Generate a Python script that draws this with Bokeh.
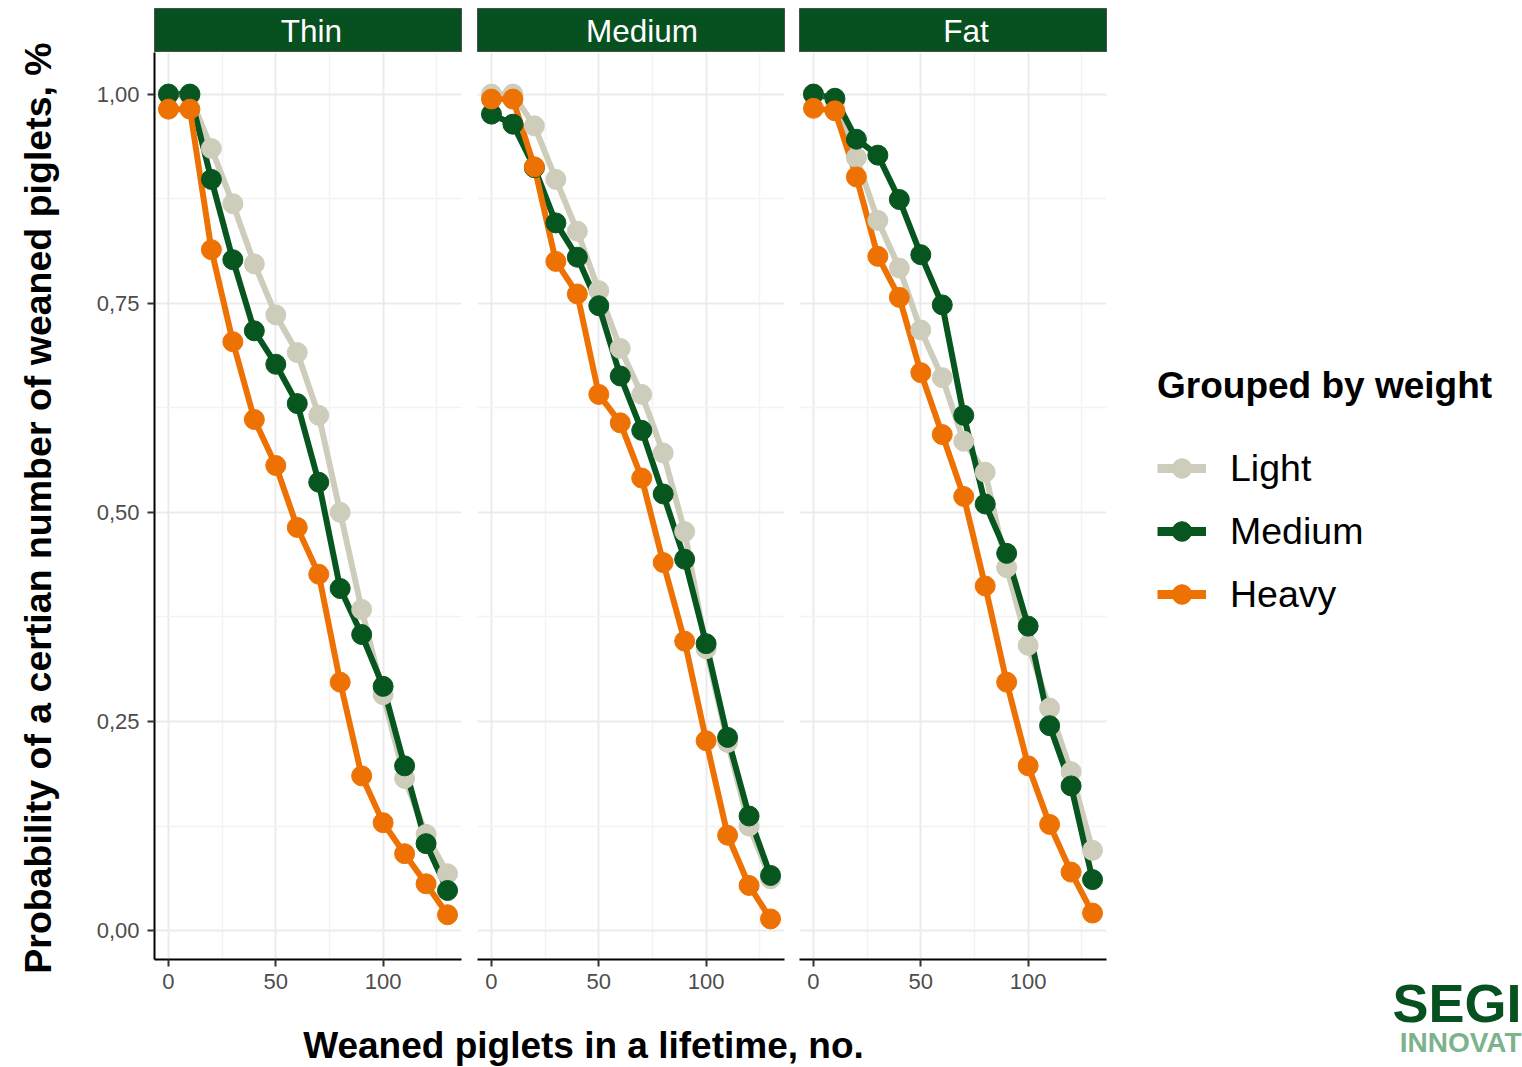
import math
from bokeh.plotting import figure
from bokeh.layouts import row, column
from bokeh.models import Range1d, FixedTicker, Label, Legend, LegendItem
from bokeh.embed import file_html
from bokeh.resources import INLINE

# ---------------- data ----------------
weaned = [0, 10, 20, 30, 40, 50, 60, 70, 80, 90, 100, 110, 120, 130]
panels = ["Thin", "Medium", "Fat"]
groups = ["Light", "Medium", "Heavy"]

thin_light = [1.000, 0.998, 0.935, 0.869, 0.797, 0.736, 0.691, 0.616, 0.500, 0.384, 0.282, 0.182, 0.115, 0.068]
thin_medium = [1.000, 1.000, 0.898, 0.802, 0.717, 0.677, 0.630, 0.536, 0.409, 0.354, 0.292, 0.197, 0.104, 0.048]
thin_heavy = [0.982, 0.982, 0.814, 0.704, 0.611, 0.556, 0.482, 0.426, 0.297, 0.185, 0.129, 0.092, 0.056, 0.019]

medium_light = [1.000, 1.000, 0.962, 0.898, 0.836, 0.765, 0.696, 0.641, 0.571, 0.477, 0.337, 0.225, 0.125, 0.062]
medium_medium = [0.976, 0.964, 0.912, 0.846, 0.805, 0.747, 0.663, 0.598, 0.522, 0.444, 0.343, 0.231, 0.137, 0.066]
medium_heavy = [0.994, 0.994, 0.913, 0.800, 0.761, 0.641, 0.607, 0.541, 0.440, 0.346, 0.227, 0.114, 0.054, 0.014]

fat_light = [1.000, 0.992, 0.924, 0.849, 0.792, 0.718, 0.661, 0.585, 0.548, 0.434, 0.341, 0.266, 0.190, 0.096]
fat_medium = [1.000, 0.995, 0.946, 0.927, 0.874, 0.808, 0.748, 0.616, 0.510, 0.451, 0.364, 0.245, 0.173, 0.061]
fat_heavy = [0.983, 0.980, 0.901, 0.806, 0.757, 0.667, 0.593, 0.519, 0.412, 0.297, 0.197, 0.127, 0.070, 0.021]

y_tick_values = [0.0, 0.25, 0.5, 0.75, 1.0]
y_tick_labels = ["0,00", "0,25", "0,50", "0,75", "1,00"]
y_minor_values = [0.125, 0.375, 0.625, 0.875]
x_tick_values = [0, 50, 100]
x_tick_labels = ["0", "50", "100"]
x_minor_values = [25, 75, 125]

y_title = "Probability of a certian number of weaned piglets, %"
x_title = "Weaned piglets in a lifetime, no."
legend_title = "Grouped by weight"
logo_top = "SEGI"
logo_bottom = "INNOVAT"

series = {
    "Thin": [thin_light, thin_medium, thin_heavy],
    "Medium": [medium_light, medium_medium, medium_heavy],
    "Fat": [fat_light, fat_medium, fat_heavy],
}

# ---------------- style ----------------
FONT = "Liberation Sans"
COLORS = ["#CECDBC", "#07551F", "#EE7203"]
STRIP = "#07501F"
GRID_MAJOR = "#EBEBEB"
GRID_MINOR = "#F3F3F3"

YT_W = 70  # left column holding the y title
# per-panel geometry: (fig width, border left, border right)
geom = {"Thin": (399, 84, 8), "Medium": (323, 8, 8), "Fat": (338, 7, 24)}
strip_text_shift = {"Thin": 3.5, "Medium": 11, "Fat": 13}
STRIP_TOP = 8
STRIP_H = 52
PANEL_H = 948
PANEL_BOTTOM = 41
XTITLE_H = 67
LEG_W = 392
TOTAL_H = STRIP_H + PANEL_H + XTITLE_H


def bare_fig(w, h, xr, yr, **kw):
    opts = dict(min_border_left=0, min_border_right=0, min_border_top=0, min_border_bottom=0)
    opts.update(kw)
    return figure(width=w, height=h, x_range=Range1d(*xr), y_range=Range1d(*yr),
                  x_axis_type=None, y_axis_type=None, toolbar_location=None,
                  output_backend="svg", outline_line_color=None,
                  border_fill_color="white", **opts)


def make_strip(name):
    w, bl, br = geom[name]
    fw = w - bl - br
    s = figure(width=w, height=STRIP_H, x_range=Range1d(0, fw), y_range=Range1d(0, 1),
               x_axis_type=None, y_axis_type=None, toolbar_location=None,
               output_backend="svg", min_border_left=bl, min_border_right=br,
               min_border_top=STRIP_TOP, min_border_bottom=0,
               background_fill_color=STRIP, border_fill_color="white",
               outline_line_color="#4D4D4D", outline_line_width=1)
    s.add_layout(Label(x=fw / 2 + strip_text_shift[name], y=0.5, text=name, text_align="center",
                       text_baseline="middle", text_color="white",
                       text_font=FONT, text_font_size="31.5px"))
    return s


def make_panel(name, first):
    w, bl, br = geom[name]
    kw = {} if first else {"y_axis_location": None}
    p = figure(width=w, height=PANEL_H,
               x_range=Range1d(-6.5, 136.5), y_range=Range1d(-0.0345, 1.0497),
               toolbar_location=None, output_backend="svg",
               min_border_left=bl, min_border_right=br,
               min_border_top=0, min_border_bottom=PANEL_BOTTOM,
               background_fill_color="white", border_fill_color="white",
               outline_line_color=None, **kw)
    # grids
    p.xgrid.ticker = FixedTicker(ticks=x_tick_values, minor_ticks=x_minor_values)
    p.ygrid.ticker = FixedTicker(ticks=y_tick_values, minor_ticks=y_minor_values)
    for g in (p.xgrid[0], p.ygrid[0]):
        g.grid_line_color = GRID_MAJOR
        g.grid_line_width = 2
        g.minor_grid_line_color = GRID_MINOR
        g.minor_grid_line_width = 1.5
    # x axis
    xa = p.xaxis[0]
    xa.ticker = FixedTicker(ticks=x_tick_values)
    xa.major_label_overrides = dict(zip(x_tick_values, x_tick_labels))
    xa.axis_line_color = "black"
    xa.axis_line_width = 2
    xa.major_tick_line_color = "#333333"
    xa.major_tick_line_width = 2
    xa.major_tick_out = 7
    xa.major_tick_in = 0
    xa.minor_tick_line_color = None
    xa.major_label_standoff = 7
    xa.major_label_text_font = FONT
    xa.major_label_text_font_size = "22px"
    xa.major_label_text_color = "#4D4D4D"
    if first:
        ya = p.yaxis[0]
        ya.ticker = FixedTicker(ticks=y_tick_values)
        ya.major_label_overrides = dict(zip(y_tick_values, y_tick_labels))
        ya.axis_line_color = "black"
        ya.axis_line_width = 2
        ya.major_tick_line_color = "#333333"
        ya.major_tick_line_width = 2
        ya.major_tick_out = 7
        ya.major_tick_in = 0
        ya.minor_tick_line_color = None
        ya.major_label_standoff = 8
        ya.major_label_text_font = FONT
        ya.major_label_text_font_size = "22px"
        ya.major_label_text_color = "#4D4D4D"
    data = series[name]
    for vals, c in zip(data, COLORS):
        p.line(weaned, vals, line_width=6, line_color=c, line_join="round")
    for vals, c in zip(data, COLORS):
        p.scatter(weaned, vals, size=20, fill_color=c, line_color=c)
    return p


# y title column
yt = bare_fig(YT_W, TOTAL_H, (0, YT_W), (0, TOTAL_H))
yt.add_layout(Label(x=37, y=TOTAL_H - 507.5, text=y_title, angle=math.pi / 2,
                    text_align="center", text_baseline="middle",
                    text_font=FONT, text_font_size="37.5px", text_font_style="bold",
                    text_color="black"))

cols = []
for i, name in enumerate(panels):
    cols.append(column(make_strip(name), make_panel(name, i == 0)))

left_w = sum(geom[n][0] for n in panels)

xt = bare_fig(left_w, XTITLE_H, (0, left_w), (0, XTITLE_H))
xt.add_layout(Label(x=583 - YT_W, y=22, text=x_title, text_align="center", text_baseline="middle",
                    text_font=FONT, text_font_size="37px", text_font_style="bold",
                    text_color="black"))

LEG_TOP = 338
leg_frame_h = TOTAL_H - LEG_TOP
leg = bare_fig(LEG_W, TOTAL_H, (0, LEG_W), (0, leg_frame_h), min_border_top=LEG_TOP)
nan = float("nan")
items = []
for g, c in zip(groups, COLORS):
    r1 = leg.line([nan], [nan], line_width=9, line_color=c)
    r2 = leg.scatter([nan], [nan], size=20, fill_color=c, line_color=c)
    items.append(LegendItem(label=g, renderers=[r1, r2]))
legend = Legend(items=items, location="top_left", title=legend_title,
                title_text_font=FONT, title_text_font_size="37px", title_text_font_style="bold",
                title_text_color="black", title_standoff=36,
                label_text_font=FONT, label_text_font_size="37.5px", label_text_color="black",
                glyph_width=49, glyph_height=50, label_standoff=24, spacing=13,
                padding=0, margin=27, border_line_color=None, background_fill_alpha=0)
leg.add_layout(legend, "center")
# logo (cut by the right edge in the reference)
leg.add_layout(Label(x=LEG_W - 1, y=65, text=logo_top, text_align="right", text_baseline="middle",
                     text_font=FONT, text_font_size="54px",
                     text_font_style="bold", text_color="#07501F"))
leg.add_layout(Label(x=LEG_W - 1, y=25, text=logo_bottom, text_align="right", text_baseline="middle",
                     text_font=FONT, text_font_size="28px",
                     text_font_style="bold", text_color="#7DB38C"))

# wrap figures in columns so their borders are not aligned with each other
layout = row(column(yt), column(row(*cols), xt), column(leg))

open("out.html", "w").write(file_html(layout, INLINE))
